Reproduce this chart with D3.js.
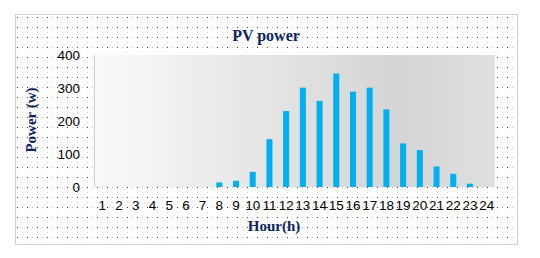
<!DOCTYPE html>
<html><head><meta charset="utf-8">
<script src="https://cdn.jsdelivr.net/npm/d3@7"></script>
<style>html,body{margin:0;padding:0;background:#fff;}svg{display:block;}</style>
</head><body>
<script>
const hours = ["1","2","3","4","5","6","7","8","9","10","11","12","13","14","15","16","17","18","19","20","21","22","23","24"];
const power = [0,0,0,0,0,0,0,14,19,46,145,230,301,261,344,289,301,235,132,112,62,40,10,0];
const yTicks = [0,100,200,300,400];
const title = "PV power";
const yTitle = "Power (w)";
const xTitle = "Hour(h)";

const W = 540, H = 258;
const svg = d3.select("body").append("svg").attr("width", W).attr("height", H);
const defs = svg.append("defs");
const pat = defs.append("pattern").attr("id","dots").attr("patternUnits","userSpaceOnUse")
  .attr("width",10).attr("height",10).attr("x",0).attr("y",0);
pat.append("rect").attr("width",10).attr("height",10).attr("fill","#fff");
pat.append("rect").attr("x",7).attr("y",7).attr("width",1).attr("height",1).attr("fill","#3a3a3a");
pat.append("rect").attr("x",2).attr("y",7).attr("width",1).attr("height",1).attr("fill","#c8c8c8");
pat.append("rect").attr("x",7).attr("y",2).attr("width",1).attr("height",1).attr("fill","#e0e0e0");
const grad = defs.append("linearGradient").attr("id","bg").attr("x1","0").attr("x2","1").attr("y1","0").attr("y2","0");
grad.append("stop").attr("offset","0%").attr("stop-color","#fafafa");
grad.append("stop").attr("offset","75%").attr("stop-color","#d5d5d5");
grad.append("stop").attr("offset","100%").attr("stop-color","#dfdfdf");

// outer frame
svg.append("rect").attr("x",15.5).attr("y",14.5).attr("width",502).attr("height",230)
  .attr("fill","url(#dots)").attr("stroke","#cfcfcf").attr("stroke-width",1);

const m = {left:94, right:495, top:55, bottom:187};
const x = d3.scaleBand().domain(hours).range([m.left, m.right]).paddingInner(0.64).paddingOuter(0.32);
const y = d3.scaleLinear().domain([0,400]).range([m.bottom, m.top]);

svg.append("rect").attr("x",m.left).attr("y",m.top).attr("width",m.right-m.left).attr("height",m.bottom-m.top)
  .attr("fill","url(#bg)");
svg.append("line").attr("x1",m.left+0.5).attr("x2",m.left+0.5).attr("y1",m.top).attr("y2",m.bottom)
  .attr("stroke","#bcd6ee").attr("stroke-width",1);

svg.append("g").selectAll("rect").data(hours).join("rect")
  .attr("x", d => x(d)).attr("width", x.bandwidth())
  .attr("y", (d,i) => y(power[i])).attr("height", (d,i) => y(0) - y(power[i]))
  .attr("fill","#00b0f0");

// y axis
const ya = svg.append("g").attr("transform",`translate(${m.left-14},0)`)
  .call(d3.axisLeft(y).tickValues(yTicks).tickSize(0).tickPadding(0));
ya.select(".domain").remove();
ya.selectAll("text").attr("font-family","'Liberation Sans', Arial, sans-serif").attr("font-size",13.5).attr("fill","#000");

// x axis
const xa = svg.append("g").attr("transform",`translate(0,${m.bottom+13})`)
  .call(d3.axisBottom(x).tickSize(0).tickPadding(0));
xa.select(".domain").remove();
xa.selectAll("text").attr("font-family","'Liberation Sans', Arial, sans-serif").attr("font-size",13.5).attr("fill","#000");

const navy = "#0c2461";
svg.append("text").attr("x",266).attr("y",41).attr("text-anchor","middle")
  .attr("font-family","'Liberation Serif', 'Times New Roman', serif").attr("font-weight","bold")
  .attr("font-size",16).attr("fill",navy).text(title);
svg.append("text").attr("x",274).attr("y",231).attr("text-anchor","middle")
  .attr("font-family","'Liberation Serif', 'Times New Roman', serif").attr("font-weight","bold")
  .attr("font-size",15).attr("fill",navy).text(xTitle);
svg.append("text").attr("transform","translate(36,120) rotate(-90)").attr("text-anchor","middle")
  .attr("font-family","'Liberation Serif', 'Times New Roman', serif").attr("font-weight","bold")
  .attr("font-size",15).attr("fill",navy).text(yTitle);
</script>
</body></html>
